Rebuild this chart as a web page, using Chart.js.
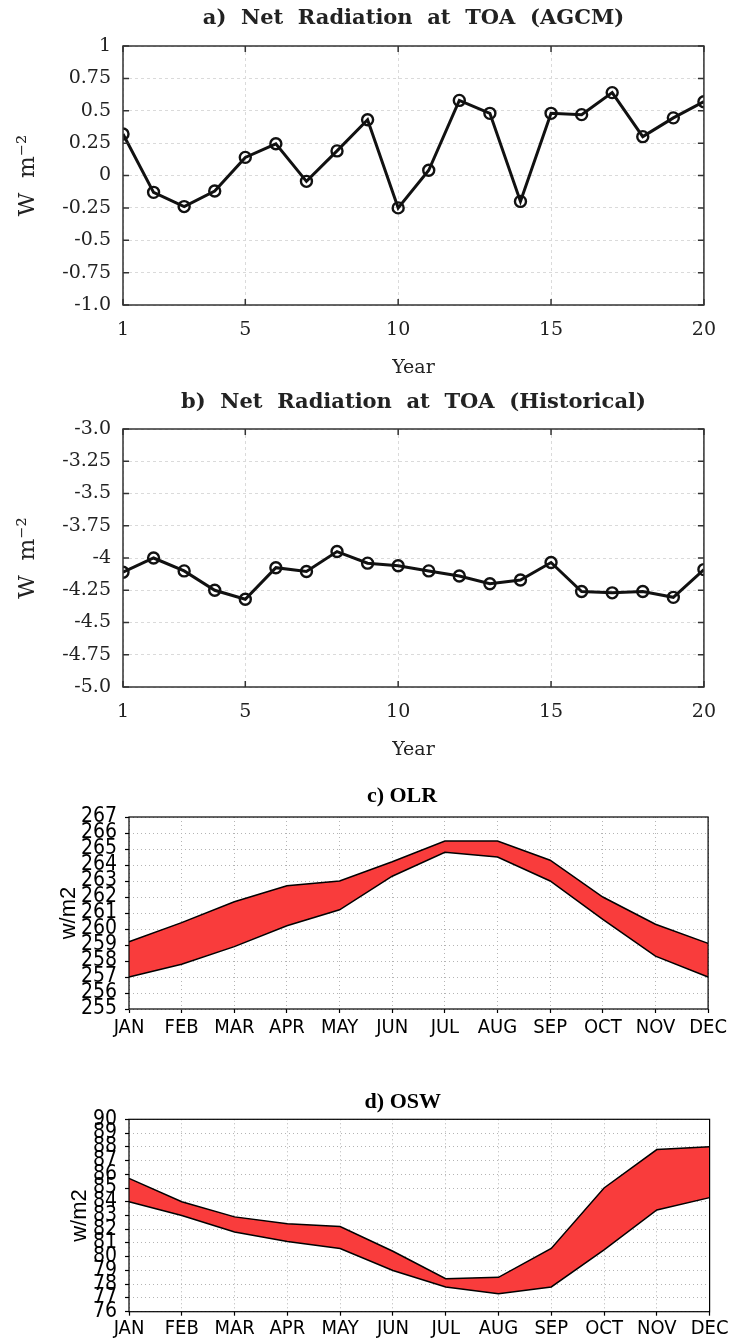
<!DOCTYPE html>
<html>
<head>
<meta charset="utf-8">
<script src="https://cdn.jsdelivr.net/npm/chart.js@4.4.1/dist/chart.umd.min.js"></script>
<style>
  body { margin: 0; background: #fff; }
  .panel { position: absolute; left: 0; width: 730px; }
</style>
</head>
<body>
<div class="panel" style="top:0;height:390px"><canvas id="agcm"></canvas></div>
<div class="panel" style="top:390px;height:380px"><canvas id="hist"></canvas></div>
<div class="panel" style="top:770px;height:290px"><canvas id="olr"></canvas></div>
<div class="panel" style="top:1060px;height:282px"><canvas id="osw"></canvas></div>
<script>
// panel a/b: yearly net radiation at TOA
const years = [1, 2, 3, 4, 5, 6, 7, 8, 9, 10, 11, 12, 13, 14, 15, 16, 17, 18, 19, 20];
const yearTicks = [1, 5, 10, 15, 20];
const agcm = [0.32, -0.13, -0.24, -0.12, 0.14, 0.245, -0.045, 0.19, 0.43, -0.25,
              0.04, 0.58, 0.48, -0.20, 0.48, 0.47, 0.64, 0.30, 0.445, 0.57];
const agcmTicks = [-1, -0.75, -0.5, -0.25, 0, 0.25, 0.5, 0.75, 1];
const agcmLabels = ['-1.0', '-0.75', '-0.5', '-0.25', '0', '0.25', '0.5', '0.75', '1'];
const hist = [-4.11, -4.0, -4.10, -4.25, -4.32, -4.075, -4.105, -3.95, -4.04, -4.06,
              -4.10, -4.14, -4.20, -4.17, -4.035, -4.26, -4.27, -4.26, -4.305, -4.09];
const histTicks = [-5, -4.75, -4.5, -4.25, -4, -3.75, -3.5, -3.25, -3];
const histLabels = ['-5.0', '-4.75', '-4.5', '-4.25', '-4', '-3.75', '-3.5', '-3.25', '-3.0'];

// panel c/d: monthly range (lower / upper)
const months = ['JAN', 'FEB', 'MAR', 'APR', 'MAY', 'JUN', 'JUL', 'AUG', 'SEP', 'OCT', 'NOV', 'DEC'];
const olrUpper = [259.2, 260.4, 261.7, 262.7, 263.0, 264.2, 265.5, 265.5, 264.3, 262.0, 260.3, 259.1];
const olrLower = [257.0, 257.8, 258.9, 260.2, 261.2, 263.3, 264.8, 264.5, 263.0, 260.6, 258.3, 257.0];
const olrTicks = [255, 256, 257, 258, 259, 260, 261, 262, 263, 264, 265, 266, 267];
const oswUpper = [85.7, 84.0, 82.9, 82.4, 82.2, 80.4, 78.4, 78.5, 80.6, 85.0, 87.8, 88.0];
const oswLower = [84.0, 83.0, 81.8, 81.1, 80.6, 79.0, 77.8, 77.3, 77.8, 80.5, 83.4, 84.3];
const oswTicks = [76, 77, 78, 79, 80, 81, 82, 83, 84, 85, 86, 87, 88, 89, 90];

const SERIF = '"DejaVu Serif", serif';
const NARROW = '"Liberation Sans Narrow", "DejaVu Sans Condensed", sans-serif';

// box around the plot, with optional inward tick marks (matlab style)
const framePlugin = {
  id: 'frame',
  afterDraw(chart, args, opts) {
    const {ctx, chartArea: a, scales} = chart;
    ctx.save();
    ctx.strokeStyle = opts.color;
    ctx.lineWidth = opts.width;
    ctx.strokeRect(a.left, a.top, a.right - a.left, a.bottom - a.top);
    if (opts.tick) {
      const t = opts.tick;
      ctx.beginPath();
      scales.x.ticks.forEach(k => {
        const x = scales.x.getPixelForValue(k.value);
        ctx.moveTo(x, a.bottom); ctx.lineTo(x, a.bottom - t);
        ctx.moveTo(x, a.top); ctx.lineTo(x, a.top + t);
      });
      scales.y.ticks.forEach(k => {
        const y = scales.y.getPixelForValue(k.value);
        ctx.moveTo(a.left, y); ctx.lineTo(a.left + t, y);
        ctx.moveTo(a.right, y); ctx.lineTo(a.right - t, y);
      });
      ctx.stroke();
    }
    ctx.restore();
  }
};

function yearChart(id, title, values, yTicks, yLabels, p) {
  new Chart(document.getElementById(id), {
    type: 'line',
    data: {
      datasets: [{
        data: years.map((x, i) => ({x, y: values[i]})),
        borderColor: '#111',
        borderWidth: 3,
        pointRadius: 5.5,
        pointBorderWidth: 2.4,
        pointBorderColor: '#111',
        pointBackgroundColor: 'rgba(0,0,0,0)',
        tension: 0
      }]
    },
    plugins: [framePlugin],
    options: {
      animation: false,
      responsive: true,
      maintainAspectRatio: false,
      layout: { padding: { left: 0, right: 20, top: 0, bottom: 0 } },
      plugins: {
        legend: { display: false },
        tooltip: { enabled: false },
        title: {
          display: true,
          fullSize: false,
          text: title,
          color: '#222',
          font: { family: SERIF, size: 21, weight: 'bold' },
          padding: { top: p.titleTop, bottom: p.titleBottom }
        },
        frame: { color: '#333', width: 1.5, tick: 6 }
      },
      scales: {
        x: {
          type: 'linear',
          min: 1,
          max: 20,
          afterBuildTicks: s => { s.ticks = yearTicks.map(v => ({value: v})); },
          afterFit: s => { s.height = p.xHeight; },
          ticks: { color: '#222', font: { family: SERIF, size: 19 }, padding: p.xPad },
          grid: { color: '#dadada', drawTicks: false },
          border: { display: false, dash: [3, 3] },
          title: {
            display: true, text: 'Year', color: '#222',
            font: { family: SERIF, size: 19 },
            padding: { top: 0, bottom: p.yearBottom }
          }
        },
        y: {
          min: yTicks[0],
          max: yTicks[yTicks.length - 1],
          afterBuildTicks: s => { s.ticks = yTicks.map(v => ({value: v})); },
          afterFit: s => { s.width = 123; },
          ticks: {
            color: '#222', font: { family: SERIF, size: 19 }, padding: 12,
            autoSkip: false,
            callback: v => yLabels[yTicks.indexOf(v)]
          },
          grid: { color: '#dadada', drawTicks: false },
          border: { display: false, dash: [3, 3] },
          title: {
            display: true, text: 'W  m⁻²', color: '#222',
            font: { family: SERIF, size: 23 },
            padding: { top: 14, bottom: 0 }
          }
        }
      }
    }
  });
}

function bandChart(id, title, upper, lower, yTicks, p) {
  new Chart(document.getElementById(id), {
    type: 'line',
    data: {
      labels: months,
      datasets: [
        { data: lower, borderColor: '#000', borderWidth: 1.5, pointRadius: 0, fill: false, tension: 0 },
        { data: upper, borderColor: '#000', borderWidth: 1.5, pointRadius: 0, tension: 0,
          fill: '-1', backgroundColor: '#f93c3c' }
      ]
    },
    plugins: [framePlugin],
    options: {
      animation: false,
      responsive: true,
      maintainAspectRatio: false,
      layout: { padding: { left: 0, right: 18, top: 0, bottom: 0 } },
      plugins: {
        legend: { display: false },
        tooltip: { enabled: false },
        filler: { propagate: false },
        title: {
          display: true,
          fullSize: false,
          text: title,
          color: '#000',
          font: { family: '"Liberation Serif", serif', size: 22, weight: 'bold' },
          padding: { top: p.titleTop, bottom: p.titleBottom }
        },
        frame: { color: '#000', width: 1.2, tick: 0 }
      },
      scales: {
        x: {
          afterFit: s => { s.height = p.xHeight; },
          ticks: { color: '#000', font: { family: NARROW, size: 20 }, padding: p.xPad, autoSkip: false, maxRotation: 0 },
          grid: { color: '#b4b4b4', tickColor: '#000', tickLength: 4, tickWidth: 1.2 },
          border: { display: false, dash: [1, 3] }
        },
        y: {
          min: yTicks[0],
          max: yTicks[yTicks.length - 1],
          afterBuildTicks: s => { s.ticks = yTicks.map(v => ({value: v})); },
          afterFit: s => { s.width = 129; },
          ticks: { color: '#000', font: { family: NARROW, size: 21 }, padding: 8, autoSkip: false },
          grid: { color: '#b4b4b4', tickColor: '#000', tickLength: 4, tickWidth: 1.2 },
          border: { display: false, dash: [1, 3] },
          title: {
            display: true, text: 'w/m2', color: '#000',
            font: { family: '"Liberation Sans", sans-serif', size: 22 },
            padding: { top: p.wTop, bottom: 0 }
          }
        }
      }
    }
  });
}

yearChart('agcm', 'a)  Net  Radiation  at  TOA  (AGCM)', agcm, agcmTicks, agcmLabels,
  { titleTop: 6, titleBottom: 14.8, xHeight: 85, xPad: 14, yearBottom: 10.6 });
yearChart('hist', 'b)  Net  Radiation  at  TOA  (Historical)', hist, histTicks, histLabels,
  { titleTop: 0, titleBottom: 13.8, xHeight: 83, xPad: 14, yearBottom: 8.6 });
bandChart('olr', 'c) OLR      ', olrUpper, olrLower, olrTicks,
  { titleTop: 13, titleBottom: 7.6, xHeight: 51, xPad: 3, wTop: 56 });
bandChart('osw', 'd) OSW      ', oswUpper, oswLower, oswTicks,
  { titleTop: 29, titleBottom: 3.9, xHeight: 30.3, xPad: 1.5, wTop: 67 });
</script>
</body>
</html>
